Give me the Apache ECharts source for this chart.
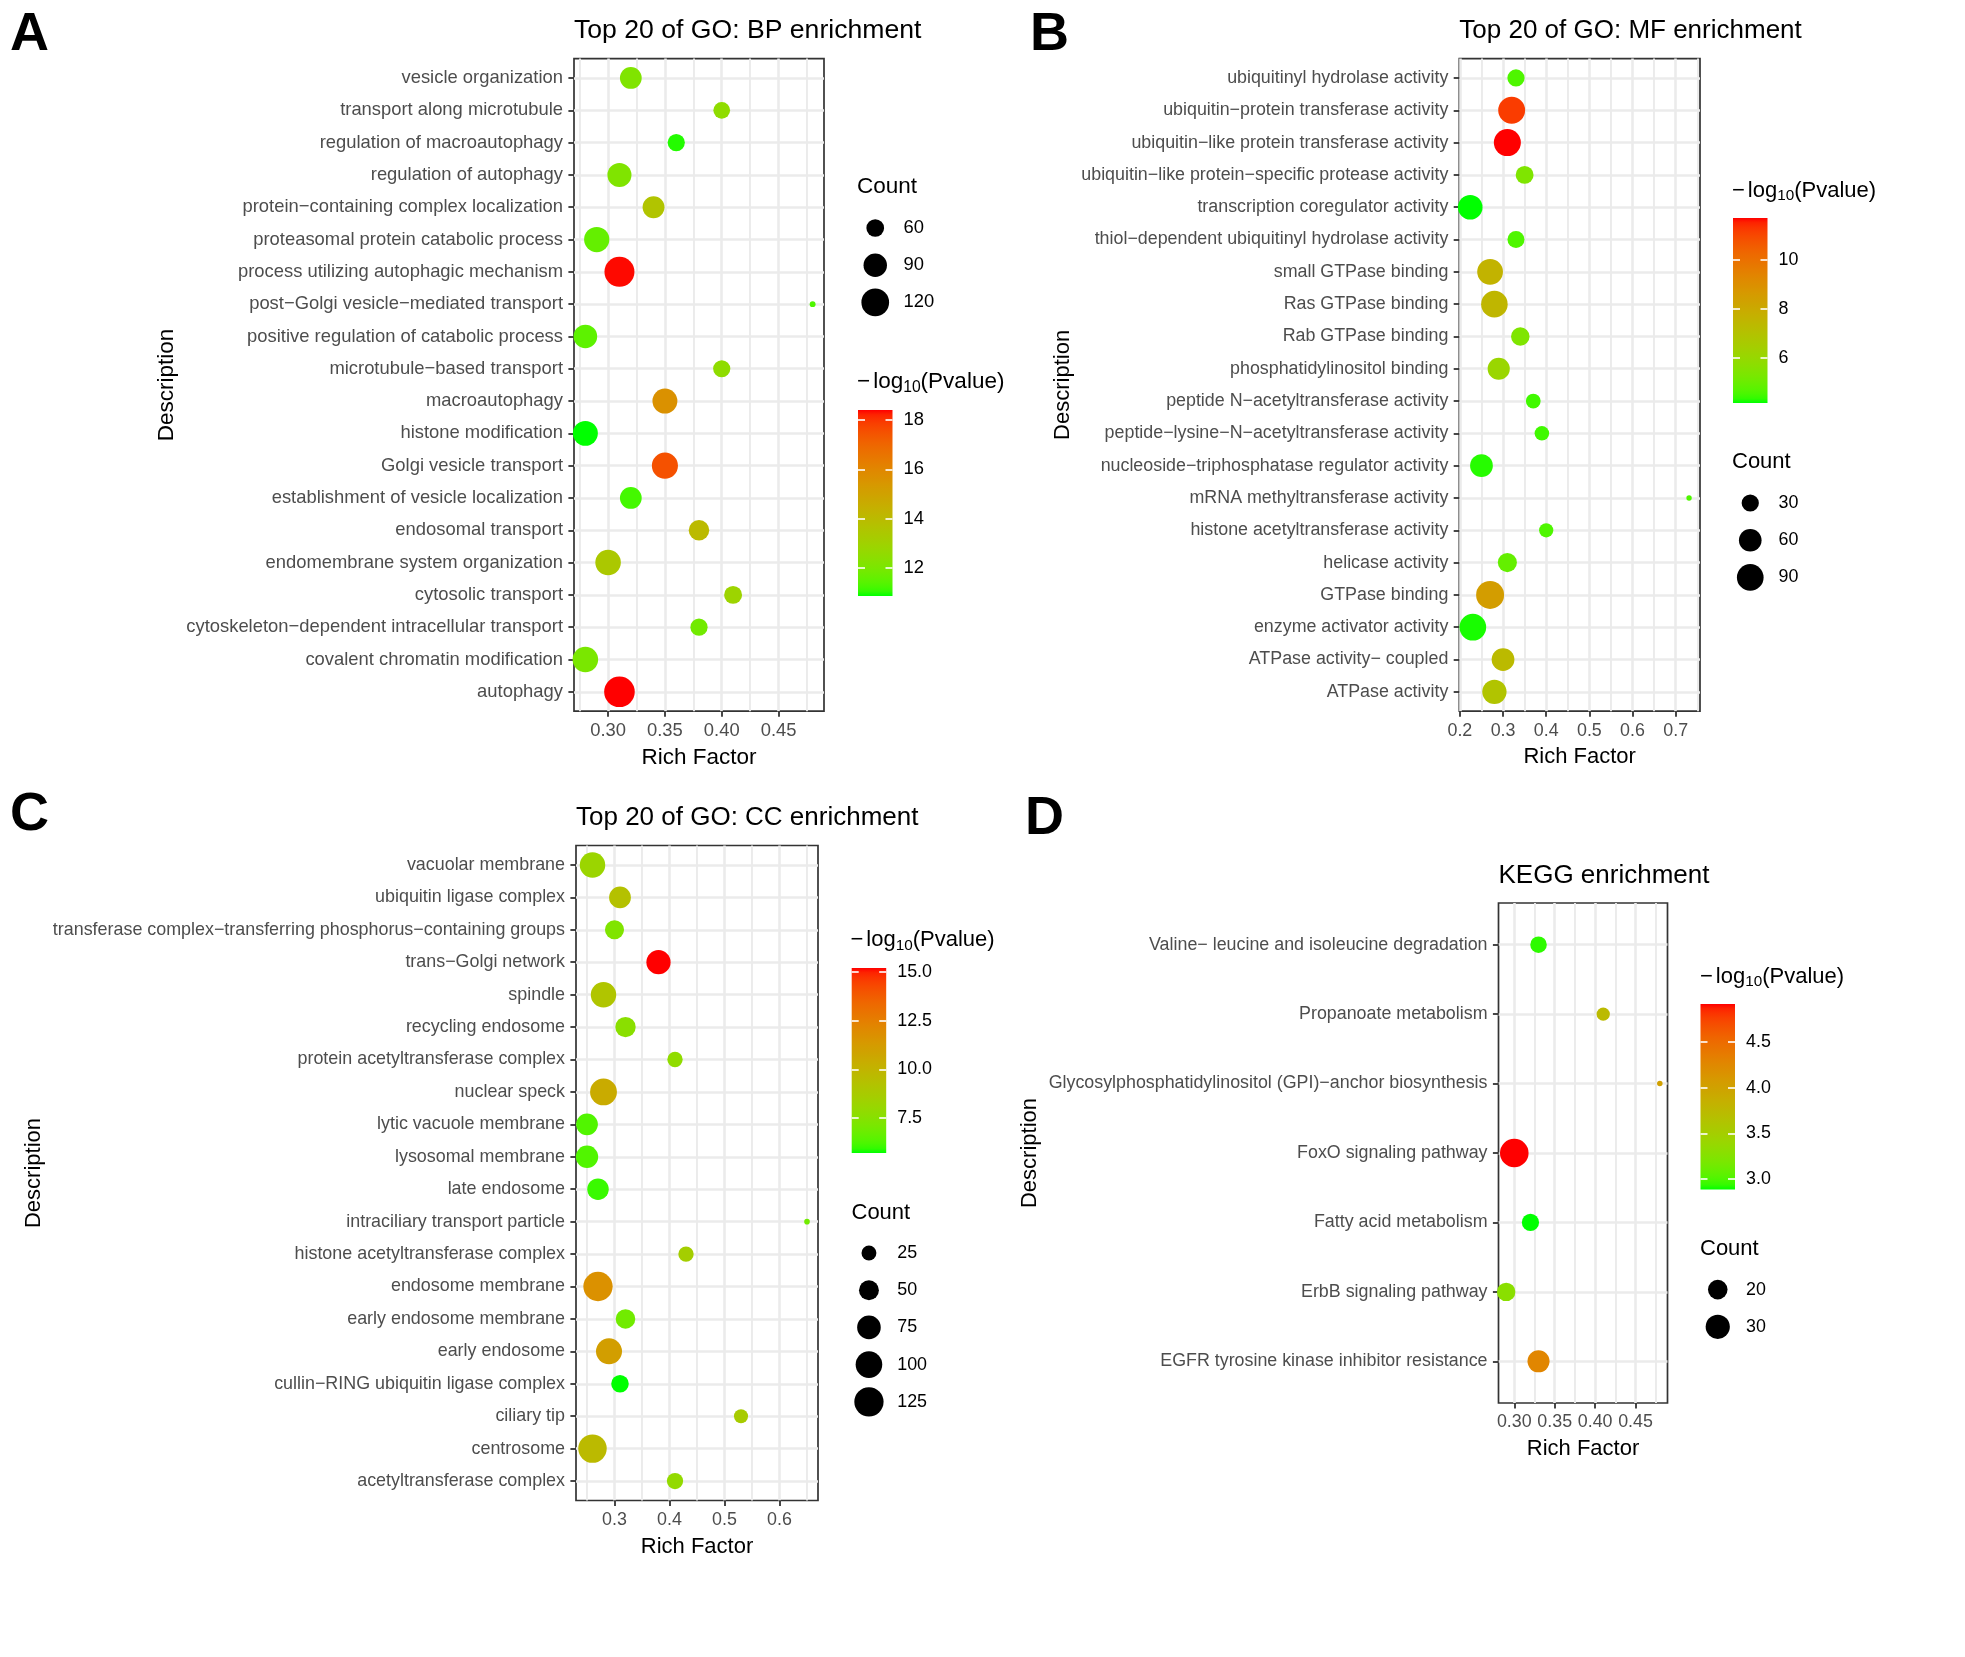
<!DOCTYPE html>
<html>
<head>
<meta charset="utf-8">
<script src="https://cdn.jsdelivr.net/npm/echarts@6/dist/echarts.min.js"></script>
<style>
html,body{margin:0;padding:0;background:#ffffff;}
#chart{width:1965px;height:1657px;}
</style>
</head>
<body>
<div id="chart"></div>
<script>
// ================= DATA =================
// Panel A : GO BP (categories listed bottom -> top)
const bpTerms = ["autophagy","covalent chromatin modification","cytoskeleton\u2212dependent intracellular transport","cytosolic transport","endomembrane system organization","endosomal transport","establishment of vesicle localization","Golgi vesicle transport","histone modification","macroautophagy","microtubule\u2212based transport","positive regulation of catabolic process","post\u2212Golgi vesicle\u2212mediated transport","process utilizing autophagic mechanism","proteasomal protein catabolic process","protein\u2212containing complex localization","regulation of autophagy","regulation of macroautophagy","transport along microtubule","vesicle organization"];
const bpRich  = [0.31,0.28,0.38,0.41,0.30,0.38,0.32,0.35,0.28,0.35,0.40,0.28,0.48,0.31,0.29,0.34,0.31,0.36,0.40,0.32];
const bpCount = [144,104,58,61,104,73,80,108,100,100,58,91,35,139,102,81,94,58,56,80];
const bpLogP  = [18.4,12.0,11.85,12.9,13.4,14.0,11.2,17.5,10.87,15.6,12.5,11.5,11.3,18.35,11.6,13.6,12.15,11.0,12.5,12.15];
const bpXTicks = [0.30,0.35,0.40,0.45];
const bpSizeBreaks = [60,90,120];
const bpColorTicks = [12,14,16,18];

// Panel B : GO MF
const mfTerms = ["ATPase activity","ATPase activity\u2212 coupled","enzyme activator activity","GTPase binding","helicase activity","histone acetyltransferase activity","mRNA methyltransferase activity","nucleoside\u2212triphosphatase regulator activity","peptide\u2212lysine\u2212N\u2212acetyltransferase activity","peptide N\u2212acetyltransferase activity","phosphatidylinositol binding","Rab GTPase binding","Ras GTPase binding","small GTPase binding","thiol\u2212dependent ubiquitinyl hydrolase activity","transcription coregulator activity","ubiquitin\u2212like protein\u2212specific protease activity","ubiquitin\u2212like protein transferase activity","ubiquitin\u2212protein transferase activity","ubiquitinyl hydrolase activity"];
const mfRich  = [0.28,0.30,0.23,0.27,0.31,0.40,0.731,0.25,0.39,0.37,0.29,0.34,0.28,0.27,0.33,0.224,0.35,0.31,0.32,0.33];
const mfCount = [72,61,90,101,39,18,3,61,19,20,57,36,89,83,29,74,33,93,92,30];
const mfLogP  = [6.9,7.3,4.25,8.5,4.9,4.6,4.6,4.3,4.46,4.46,6.1,5.4,7.5,7.6,4.6,4.16,5.4,11.71,11.2,4.6];
const mfXTicks = [0.2,0.3,0.4,0.5,0.6,0.7];
const mfSizeBreaks = [30,60,90];
const mfColorTicks = [6,8,10];

// Panel C : GO CC
const ccTerms = ["acetyltransferase complex","centrosome","ciliary tip","cullin\u2212RING ubiquitin ligase complex","early endosome","early endosome membrane","endosome membrane","histone acetyltransferase complex","intraciliary transport particle","late endosome","lysosomal membrane","lytic vacuole membrane","nuclear speck","protein acetyltransferase complex","recycling endosome","spindle","trans\u2212Golgi network","transferase complex\u2212transferring phosphorus\u2212containing groups","ubiquitin ligase complex","vacuolar membrane"];
const ccRich  = [0.41,0.26,0.53,0.31,0.29,0.32,0.27,0.43,0.65,0.27,0.25,0.25,0.28,0.41,0.32,0.28,0.38,0.30,0.31,0.26];
const ccCount = [31,117,22,37,95,48,125,27,7,60,66,62,102,27,53,90,80,45,62,90];
const ccLogP  = [7.9,9.7,8.7,5.7,11.1,6.9,11.7,8.55,6.9,6.0,6.3,6.3,10.45,7.8,7.6,9.1,15.2,7.3,9.3,8.2];
const ccXTicks = [0.3,0.4,0.5,0.6];
const ccSizeBreaks = [25,50,75,100,125];
const ccColorTicks = [7.5,10.0,12.5,15.0];

// Panel D : KEGG
const kgTerms = ["EGFR tyrosine kinase inhibitor resistance","ErbB signaling pathway","Fatty acid metabolism","FoxO signaling pathway","Glycosylphosphatidylinositol (GPI)\u2212anchor biosynthesis","Propanoate metabolism","Valine\u2212 leucine and isoleucine degradation"];
const kgRich  = [0.33,0.29,0.32,0.30,0.48,0.41,0.33];
const kgCount = [25,18,16,42,7,11,15];
const kgLogP  = [4.27,3.29,2.884,4.916,4.02,3.74,2.93];
const kgXTicks = [0.30,0.35,0.40,0.45];
const kgSizeBreaks = [20,30];
const kgColorTicks = [3.0,3.5,4.0,4.5];

// ================= STYLE / LAYOUT =================
const FONT = "'Liberation Sans', Arial, Helvetica, sans-serif";
const GRID_COL = '#EBEBEB', BORDER_COL = '#333333', TICK_TXT_COL = '#4D4D4D';

const panels = [
  {letter:'A', letterX:10, letterY:35, title:'Top 20 of GO: BP enrichment', fs:{txt:18.4, ttl:22.5, plot:26.6, sub:15.7},
   terms:bpTerms, rich:bpRich, count:bpCount, logp:bpLogP, xTicks:bpXTicks, xDec:2,
   sizeBreaks:bpSizeBreaks, colorTicks:bpColorTicks, cDec:0,
   grid:{left:574, top:58.6, width:250, height:652.6}, titleY:30.8, descX:166.5, k:4.94,
   cb:{left:858, top:410, width:34.5, height:186}, cbTitle:{x:857, y:382.2}, cntTitle:{x:857, y:187.2}, keyTop:228},
  {letter:'B', letterX:1030, letterY:35, title:'Top 20 of GO: MF enrichment', fs:{txt:17.85, ttl:22, plot:26, sub:15.3},
   terms:mfTerms, rich:mfRich, count:mfCount, logp:mfLogP, xTicks:mfXTicks, xDec:1,
   sizeBreaks:mfSizeBreaks, colorTicks:mfColorTicks, cDec:0,
   grid:{left:1459.3, top:58.6, width:240.7, height:652.6}, titleY:30.8, descX:1063, k:4.52,
   cb:{left:1733, top:218, width:34.5, height:185}, cbTitle:{x:1732, y:190.5}, cntTitle:{x:1732, y:462.2}, keyTop:503},
  {letter:'C', letterX:10, letterY:815, title:'Top 20 of GO: CC enrichment', fs:{txt:17.9, ttl:22, plot:26, sub:15.3},
   terms:ccTerms, rich:ccRich, count:ccCount, logp:ccLogP, xTicks:ccXTicks, xDec:1,
   sizeBreaks:ccSizeBreaks, colorTicks:ccColorTicks, cDec:1,
   grid:{left:576, top:845.5, width:242, height:655}, titleY:817.8, descX:34, k:4.73,
   cb:{left:851.7, top:968, width:34.5, height:185}, cbTitle:{x:850.5, y:940}, cntTitle:{x:851.5, y:1212.9}, keyTop:1253},
  {letter:'D', letterX:1025, letterY:819, title:'KEGG enrichment', fs:{txt:17.85, ttl:22, plot:26, sub:15.3},
   terms:kgTerms, rich:kgRich, count:kgCount, logp:kgLogP, xTicks:kgXTicks, xDec:2,
   sizeBreaks:kgSizeBreaks, colorTicks:kgColorTicks, cDec:1,
   grid:{left:1498.5, top:903, width:169, height:500}, titleY:875.8, descX:1030, k:4.62,
   cb:{left:1700.5, top:1004, width:34.5, height:185.6}, cbTitle:{x:1700, y:976.5}, cntTitle:{x:1700, y:1248.6}, keyTop:1289.6}
];
const KEY_STEP = 37.2;

// ---- CIELAB interpolation green -> red (as ggplot's scale_colour_gradient) ----
function toLin(c){c/=255;return c<=0.04045?c/12.92:Math.pow((c+0.055)/1.055,2.4);}
function fromLin(c){c=c<=0.0031308?12.92*c:1.055*Math.pow(c,1/2.4)-0.055;return Math.round(Math.min(1,Math.max(0,c))*255);}
function rgb2lab(r,g,b){
  r=toLin(r);g=toLin(g);b=toLin(b);
  let X=(0.4124564*r+0.3575761*g+0.1804375*b)/0.95047, Y=0.2126729*r+0.7151522*g+0.0721750*b, Z=(0.0193339*r+0.1191920*g+0.9503041*b)/1.08883;
  const f=t=>t>0.008856?Math.cbrt(t):7.787*t+16/116;
  const fx=f(X),fy=f(Y),fz=f(Z);
  return [116*fy-16,500*(fx-fy),200*(fy-fz)];
}
function lab2hex(L,a,b){
  const fy=(L+16)/116, fx=fy+a/500, fz=fy-b/200;
  const fi=t=>{const t3=t*t*t;return t3>0.008856?t3:(t-16/116)/7.787;};
  const X=0.95047*fi(fx), Y=fi(fy), Z=1.08883*fi(fz);
  const r=3.2404542*X-1.5371385*Y-0.4985314*Z, g=-0.9692660*X+1.8760108*Y+0.0415560*Z, bb=0.0556434*X-0.2040259*Y+1.0572252*Z;
  return '#'+[fromLin(r),fromLin(g),fromLin(bb)].map(v=>v.toString(16).padStart(2,'0')).join('');
}
const LOW=rgb2lab(0,255,0), HIGH=rgb2lab(255,0,0);
const NSTOP=40;
const rampColors=[];
for(let i=0;i<=NSTOP;i++){const t=i/NSTOP;rampColors.push(lab2hex(LOW[0]+(HIGH[0]-LOW[0])*t,LOW[1]+(HIGH[1]-LOW[1])*t,LOW[2]+(HIGH[2]-LOW[2])*t));}
const gradStops=rampColors.map((c,i)=>({offset:i/NSTOP,color:c}));

// ================= BUILD OPTION =================
const grids=[], xAxes=[], yAxes=[], series=[], visualMaps=[], graphics=[];
const tickLine={color:BORDER_COL,width:1.8};

panels.forEach(p=>{
  const n=p.terms.length;
  const rMin=Math.min(...p.rich), rMax=Math.max(...p.rich), rr=rMax-rMin;
  const xmin=rMin-0.05*rr, xmax=rMax+0.05*rr;
  const cMin=Math.min(...p.count), cMax=Math.max(...p.count);
  const lo=Math.min(...p.logp), hi=Math.max(...p.logp);
  const sizeFn=c=>p.k*(1.19+5*Math.sqrt(Math.max(0,(c-cMin)/(cMax-cMin))));
  const step=p.xTicks[1]-p.xTicks[0];
  const minors=[];
  for(let m=p.xTicks[0]-step/2;m<=xmax+1e-9;m+=step){if(m>=xmin-1e-9)minors.push(+m.toFixed(4));}
  const idx=p.terms.map((_,i)=>i);

  // ---- main panel ----
  const g=grids.length;
  grids.push({left:p.grid.left,top:p.grid.top,width:p.grid.width,height:p.grid.height,show:true,
              borderColor:BORDER_COL,borderWidth:1.7,backgroundColor:'rgba(0,0,0,0)',containLabel:false});
  const xMajor=xAxes.length;
  xAxes.push({gridIndex:g,type:'value',min:xmin,max:xmax,position:'bottom',z:3,
    axisLine:{show:false,onZero:false},
    axisTick:{show:true,length:5.6,lineStyle:tickLine,customValues:p.xTicks},
    axisLabel:{show:true,customValues:p.xTicks,formatter:v=>Number(v).toFixed(p.xDec),color:TICK_TXT_COL,fontSize:p.fs.txt,fontFamily:FONT,margin:10.5},
    splitLine:{show:true,lineStyle:{color:GRID_COL,width:2.6}},
    name:'Rich Factor',nameLocation:'middle',nameGap:35,nameTextStyle:{color:'#000',fontSize:p.fs.ttl,fontFamily:FONT}});
  xAxes.push({gridIndex:g,type:'value',min:xmin,max:xmax,position:'top',show:true,z:1,
    axisLine:{show:false,onZero:false},axisTick:{show:false,customValues:minors},axisLabel:{show:false,customValues:minors},
    splitLine:{show:true,lineStyle:{color:GRID_COL,width:1.9}}});
  const yMain=yAxes.length;
  yAxes.push({gridIndex:g,type:'value',min:-0.6,max:n-0.4,position:'left',z:3,
    axisLine:{show:false,onZero:false},
    axisTick:{show:true,length:5.6,lineStyle:tickLine,customValues:idx},
    axisLabel:{show:true,customValues:idx,formatter:v=>p.terms[Math.round(v)],color:TICK_TXT_COL,fontSize:p.fs.txt,fontFamily:FONT,margin:11},
    splitLine:{show:true,lineStyle:{color:GRID_COL,width:2.6}}});
  const sIdx=series.length;
  series.push({type:'scatter',xAxisIndex:xMajor,yAxisIndex:yMain,silent:true,clip:true,z:5,
    data:p.rich.map((r,j)=>[r,j,p.count[j],p.logp[j]]),
    symbol:'circle',symbolSize:v=>sizeFn(v[2]),itemStyle:{opacity:1,borderWidth:0},
    emphasis:{disabled:true}});
  visualMaps.push({type:'continuous',show:false,seriesIndex:sIdx,dimension:3,min:lo,max:hi,inRange:{color:rampColors}});

  // ---- colour bar ----
  const gc=grids.length;
  grids.push({left:p.cb.left,top:p.cb.top,width:p.cb.width,height:p.cb.height,show:false,containLabel:false});
  const xc=xAxes.length;
  xAxes.push({gridIndex:gc,type:'value',min:0,max:1,show:false,axisLine:{onZero:false}});
  const ycR=yAxes.length;
  yAxes.push({gridIndex:gc,type:'value',min:lo,max:hi,position:'right',z:10,
    axisLine:{show:false,onZero:false},
    axisTick:{show:true,inside:true,length:7,lineStyle:{color:'#ffffff',width:1.6},customValues:p.colorTicks},
    axisLabel:{show:true,customValues:p.colorTicks,formatter:v=>Number(v).toFixed(p.cDec),color:'#000',fontSize:p.fs.txt,fontFamily:FONT,margin:11},
    splitLine:{show:false}});
  yAxes.push({gridIndex:gc,type:'value',min:lo,max:hi,position:'left',z:10,
    axisLine:{show:false,onZero:false},
    axisTick:{show:true,inside:true,length:7,lineStyle:{color:'#ffffff',width:1.6},customValues:p.colorTicks},
    axisLabel:{show:false,customValues:p.colorTicks},splitLine:{show:false}});
  series.push({type:'custom',xAxisIndex:xc,yAxisIndex:ycR,silent:true,z:2,
    data:[[0,lo,1,hi]],
    renderItem:(params,api)=>{
      const p0=api.coord([api.value(0),api.value(1)]);
      const p1=api.coord([api.value(2),api.value(3)]);
      return {type:'rect',shape:{x:p0[0],y:p1[1],width:p1[0]-p0[0],height:p0[1]-p1[1]},
              style:{fill:new echarts.graphic.LinearGradient(0,1,0,0,gradStops)}};
    }});

  // ---- size legend ----
  const nb=p.sizeBreaks.length;
  const kc=p.cb.left+p.cb.width/2;
  const gs=grids.length;
  grids.push({left:kc-20,top:p.keyTop-KEY_STEP/2,width:40,height:KEY_STEP*nb,show:false,containLabel:false});
  const xs=xAxes.length;
  xAxes.push({gridIndex:gs,type:'value',min:-1,max:1,show:false,axisLine:{onZero:false}});
  const kIdx=p.sizeBreaks.map((_,i)=>i);
  const ys=yAxes.length;
  yAxes.push({gridIndex:gs,type:'value',min:-0.5,max:nb-0.5,inverse:true,position:'right',
    axisLine:{show:false,onZero:false},axisTick:{show:false,customValues:kIdx},
    axisLabel:{show:true,customValues:kIdx,formatter:v=>String(p.sizeBreaks[Math.round(v)]),color:'#000',fontSize:p.fs.txt,fontFamily:FONT,margin:p.cb.width/2+11-20},
    splitLine:{show:false}});
  series.push({type:'scatter',xAxisIndex:xs,yAxisIndex:ys,silent:true,
    data:p.sizeBreaks.map((b,j)=>[0,j,b]),symbol:'circle',symbolSize:v=>sizeFn(v[2]),
    itemStyle:{color:'#000',opacity:1},emphasis:{disabled:true}});

  // ---- texts ----
  graphics.push({type:'text',x:p.letterX,y:p.letterY,style:{text:p.letter,fontSize:54,fontWeight:'bold',fontFamily:FONT,fill:'#000',align:'left',verticalAlign:'middle'}});
  graphics.push({type:'text',x:p.grid.left,y:p.titleY,style:{text:p.title,fontSize:p.fs.plot,fontFamily:FONT,fill:'#000',align:'left',verticalAlign:'middle'}});
  graphics.push({type:'text',x:p.descX,y:p.grid.top+p.grid.height/2,rotation:Math.PI/2,style:{text:'Description',fontSize:p.fs.ttl,fontFamily:FONT,fill:'#000',align:'center',verticalAlign:'middle'}});
  graphics.push({type:'text',x:p.cntTitle.x,y:p.cntTitle.y,style:{text:'Count',fontSize:p.fs.ttl,fontFamily:FONT,fill:'#000',align:'left',verticalAlign:'middle'}});
  graphics.push({type:'text',x:p.cbTitle.x,y:p.cbTitle.y,style:{text:'{mm|\u2212}{m|log}{s|10}{m|(Pvalue)}',align:'left',verticalAlign:'middle',
    rich:{mm:{fontSize:p.fs.ttl,fontFamily:FONT,fill:'#000',lineHeight:26,padding:[0,3,0,0]},
          m:{fontSize:p.fs.ttl,fontFamily:FONT,fill:'#000',lineHeight:26},
          s:{fontSize:p.fs.sub,fontFamily:FONT,fill:'#000',lineHeight:12.6,verticalAlign:'bottom'}}}});
});

const chart=echarts.init(document.getElementById('chart'),null,{renderer:'canvas',width:1965,height:1657});
chart.setOption({
  animation:false,
  backgroundColor:'#ffffff',
  textStyle:{fontFamily:FONT},
  grid:grids,xAxis:xAxes,yAxis:yAxes,series:series,visualMap:visualMaps,graphic:graphics
});
</script>
</body>
</html>
